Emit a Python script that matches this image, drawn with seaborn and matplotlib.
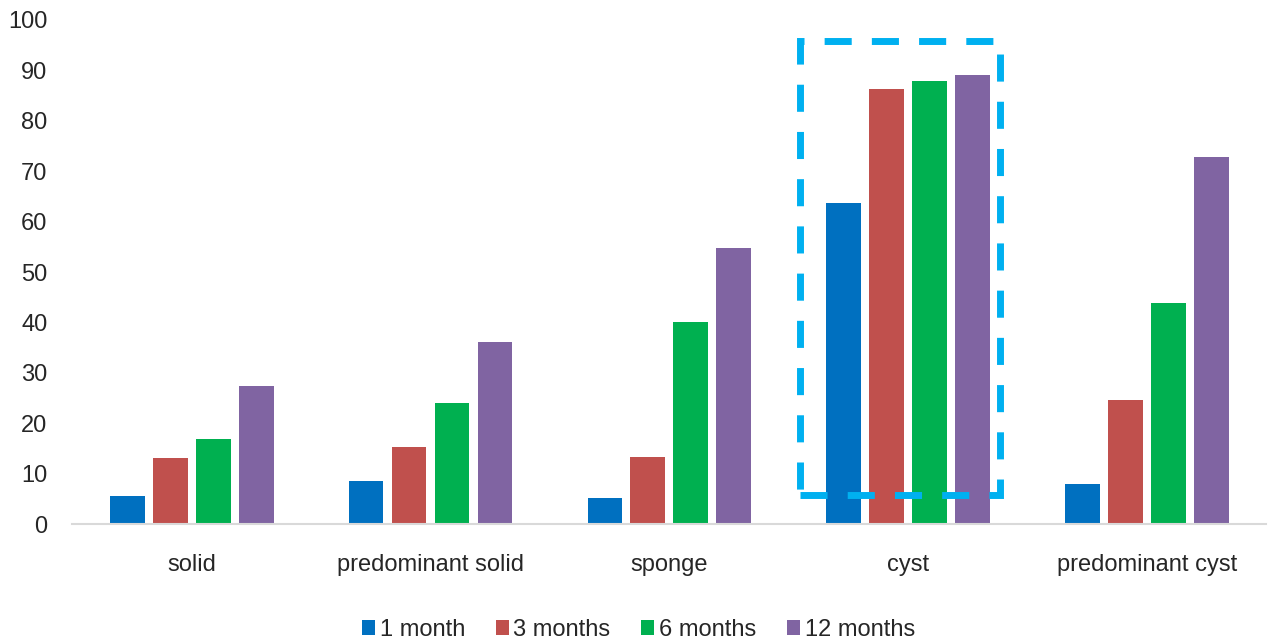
import numpy as np
import pandas as pd
import seaborn as sns
import matplotlib
matplotlib.use('Agg')
import matplotlib.pyplot as plt
from matplotlib.patches import Rectangle

categories = ['solid', 'predominant solid', 'sponge', 'cyst', 'predominant cyst']
periods = ['1 month', '3 months', '6 months', '12 months']
m1 = [5.6, 8.6, 5.2, 63.7, 8.0]
m3 = [13.2, 15.3, 13.4, 86.2, 24.7]
m6 = [16.9, 24.1, 40.1, 87.8, 43.9]
m12 = [27.5, 36.2, 54.8, 89.0, 72.9]
colors = ['#0070C0', '#C0504D', '#00B050', '#8064A2']

df = pd.DataFrame({
    'category': categories * 4,
    'period': [p for p in periods for _ in categories],
    'value': m1 + m3 + m6 + m12,
})

sns.set_style('white')
plt.rcParams['font.family'] = ['Liberation Sans', 'DejaVu Sans']

fig = plt.figure(figsize=(12.69, 6.41), dpi=100)
ax = fig.add_axes([0.057, 0.182, 0.941, 0.787])

sns.barplot(data=df, x='category', y='value', hue='period', order=categories,
            hue_order=periods, palette=colors, width=0.72, gap=0.19,
            saturation=1, linewidth=0, ax=ax, legend=True)

ax.set_ylim(0, 100)
ax.set_xlim(-0.5, 4.5)
ax.set_yticks(np.arange(0, 101, 10))
ax.set_xlabel('')
ax.set_ylabel('')
ax.tick_params(axis='x', length=0, pad=21, labelsize=17)
ax.tick_params(axis='y', length=0, pad=18, labelsize=17)
for s in ['top', 'right', 'left']:
    ax.spines[s].set_visible(False)
ax.spines['bottom'].set_color('#D9D9D9')
ax.spines['bottom'].set_linewidth(1.5)
ax.grid(False)

# highlight box around cyst group
box = Rectangle((2.548, 5.8), 0.837, 90.1, fill=False, edgecolor='#00B0F0',
                linewidth=5, linestyle=(0, (3.9, 2.9)), clip_on=False)
ax.add_patch(box)

handles, labels = ax.get_legend_handles_labels()
ax.get_legend().remove()
fig.legend(handles, labels, loc='lower center', ncol=4, frameon=False,
           fontsize=17, handlelength=0.55, handleheight=0.55, handletextpad=0.2,
           columnspacing=1.3, bbox_to_anchor=(0.503, -0.033))

fig.savefig('out.png', dpi=100)
